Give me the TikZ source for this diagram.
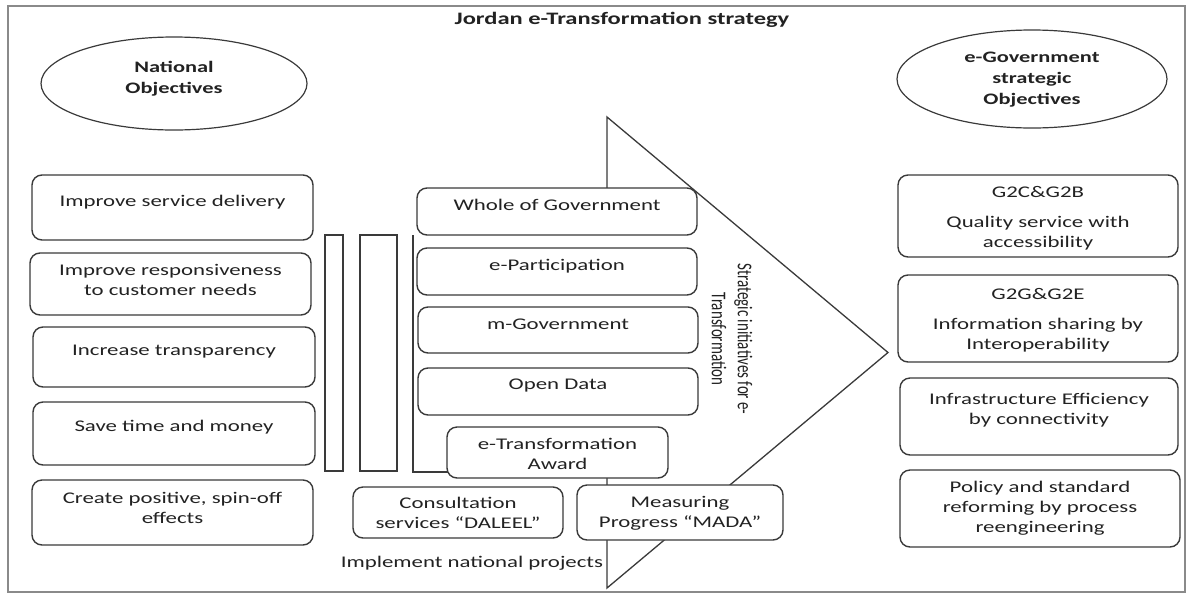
\documentclass[tikz,border=0pt]{standalone}
\usepackage{graphicx}
\usepackage{fontspec}
\setmainfont{Carlito}[FakeStretch=1.4]
\newfontfamily\rotfont{Carlito}
\usetikzlibrary{shapes.geometric}
\definecolor{ln}{HTML}{3A3A3A}
\definecolor{tx}{HTML}{222222}
\definecolor{frame}{HTML}{8A8A8A}
% box: name, x1, y1, x2, y2, text centre y, text
\newcommand\rbx[7]{%
  \node[rb, minimum width={#4-#2}, minimum height={#5-#3}] (#1) at ({(#2+#4)/2},{(#3+#5)/2}) {};
  \node[bt] (#1t) at ({(#2+#4)/2},#6) {#7};}
\begin{document}
\begin{tikzpicture}[x=1pt,y=-1pt,
  rb/.style={draw=ln, line width=1.4pt, rounded corners=10pt, fill=white, inner sep=0pt},
  bt/.style={text=tx, font=\fontsize{16.3}{20}\selectfont, align=center, inner sep=0pt},
  ell/.style={ellipse, draw=ln, line width=1.2pt, inner sep=0pt},
  et/.style={text=tx, font=\fontsize{16}{21}\selectfont\bfseries, align=center, inner sep=0pt},
  bar/.style={draw=ln, line width=1.3pt, fill=white},
  shape line/.style={draw=ln, line width=1.3pt},
]
\useasboundingbox (0,0) rectangle (1188,595);
\draw[draw=frame, line width=1.5pt] (8,6) rectangle (1185,592);

% title
\node[text=tx, font=\fontsize{17.5}{21}\selectfont\bfseries, inner sep=0pt] (title) at (622,20) {Jordan e-Transformation strategy};

% ellipses
\node[ell, minimum width=266pt, minimum height=93pt] (natobj) at (174,83.5) {};
\node[et] (natobjt) at (174,79) {National\\Objectives};
\node[ell, minimum width=270pt, minimum height=98pt] (egov) at (1032,79) {};
\node[et] (egovt) at (1032,80) {e-Government\\strategic\\Objectives};

% big arrow
\coordinate (atop) at (607,117);
\coordinate (atip) at (888,352.5);
\coordinate (abot) at (607,588);
\draw[shape line, fill=white] (atop) -- (atip) -- (abot) -- cycle;

% bars
\fill[white] (413,235) rectangle (700,472);
\draw[shape line] (413,235) -- (413,472) -- (520,472);
\draw[bar] (325,235) rectangle (343,471);
\draw[bar] (360,235) rectangle (397,471);

% left column
\rbx{l1}{32}{175}{313}{240}{202}{Improve service delivery}
\rbx{l2}{30}{253}{311}{315}{280}{Improve responsiveness\\to customer needs}
\rbx{l3}{33}{327}{315}{387}{352}{Increase transparency}
\rbx{l4}{33}{402}{315}{465}{427}{Save time and money}
\rbx{l5}{32}{480}{313}{545}{508}{Create positive, spin-off\\effects}

% middle column
\rbx{m1}{417}{188}{697}{235}{205}{Whole of Government}
\rbx{m2}{417}{248}{697}{295}{266}{e-Participation}
\rbx{m3}{418}{307}{698}{353}{324}{m-Government}
\rbx{m4}{418}{368}{698}{415}{386}{Open Data}
\rbx{m5}{447}{427}{668}{478}{454}{e-Transformation\\Award}
\rbx{c1}{353}{487}{563}{538}{513}{Consultation\\services “DALEEL”}
\rbx{c2}{577}{485}{783}{540}{513}{Measuring\\Progress “MADA”}
\node[bt] (impl) at (472,563) {Implement national projects};

% rotated arrow label
\node[rotate=-90, text=tx, inner sep=0pt] (strat) at (730,339)
  {\scalebox{1}[1.4]{\rotfont\fontsize{15}{18.6}\selectfont\begin{tabular}{@{}c@{}}Strategic initiatives for e-\\Transformation\end{tabular}}};

% right column
\rbx{r1}{898}{175}{1178}{257}{218}{G2C\&G2B\\[10pt]Quality service with\\accessibility}
\rbx{r2}{898}{275}{1178}{362}{320.5}{G2G\&G2E\\[10pt]Information sharing by\\Interoperability}
\rbx{r3}{900}{378}{1178}{455}{410.5}{Infrastructure Efficiency\\by connectivity}
\rbx{r4}{900}{470}{1180}{547}{508}{Policy and standard\\reforming by process\\reengineering}
\end{tikzpicture}
\end{document}
